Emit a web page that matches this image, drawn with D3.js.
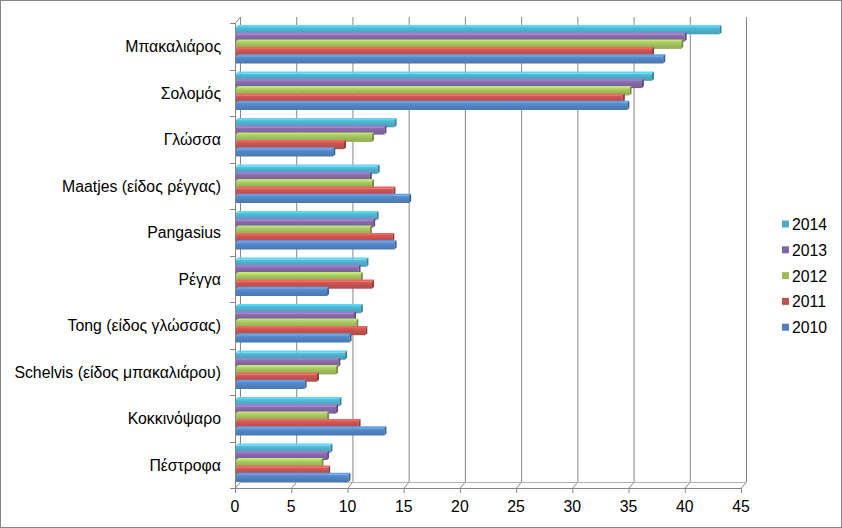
<!DOCTYPE html>
<html><head><meta charset="utf-8">
<script src="https://cdn.jsdelivr.net/npm/d3@7/dist/d3.min.js"></script>
<style>body{margin:0;background:#fff}svg{display:block}text{font-family:"Liberation Sans",Arial,sans-serif}</style>
</head><body><svg id="c" width="842" height="528"></svg>
<script>
const categories = ["Μπακαλιάρος","Σολομός","Γλώσσα","Maatjes (είδος ρέγγας)","Pangasius","Ρέγγα","Tong (είδος γλώσσας)","Schelvis (είδος μπακαλιάρου)","Κοκκινόψαρο","Πέστροφα"];
const seriesNames = ["2014","2013","2012","2011","2010"];
const v2014 = [43.0,37.0,14.1,12.6,12.5,11.6,11.1,9.7,9.2,8.4];
const v2013 = [39.9,36.1,13.2,11.9,12.2,10.9,10.5,9.1,8.9,8.1];
const v2012 = [39.6,35.0,12.1,12.1,11.9,11.1,10.7,8.9,8.1,7.6];
const v2011 = [37.0,34.4,9.6,14.0,13.9,12.1,11.5,7.2,10.9,8.2];
const v2010 = [38.0,34.8,8.65,15.4,14.1,8.1,10.1,6.1,13.2,10.0];
const xTicks = [0,5,10,15,20,25,30,35,40,45];
const seriesValues = [v2014,v2013,v2012,v2011,v2010];
const colors = ["#4BACC6","#8064A2","#9BBB59","#C0504D","#4F81BD"];

const svg = d3.select("#c");
svg.append("rect").attr("x",0.5).attr("y",0.5).attr("width",841).attr("height",527).attr("fill","#fff").attr("stroke","#868686");

const x = d3.scaleLinear().domain([0,45]).range([235,741]);
const y = d3.scaleBand().domain(categories).range([23,488]);
const dx = 5, dy = 6;
const plotTop = 23, plotBot = 488;
const grid = "#868686";
const fs = 15.8;

const g = svg.append("g");
xTicks.forEach(t=>{
  g.append("line").attr("x1",x(t)+dx+0.5).attr("x2",x(t)+dx+0.5).attr("y1",plotTop-dy).attr("y2",plotBot-dy).attr("stroke",grid);
  g.append("line").attr("x1",x(t)+0.5).attr("y1",plotBot).attr("x2",x(t)+dx+0.5).attr("y2",plotBot-dy).attr("stroke",grid);
});
g.append("line").attr("x1",x(0)+dx).attr("x2",x(45)+dx).attr("y1",plotBot-dy+0.5).attr("y2",plotBot-dy+0.5).attr("stroke","#b0b0b0");
g.append("line").attr("x1",x(0)+0.5).attr("y1",plotTop).attr("x2",x(0)+dx+0.5).attr("y2",plotTop-dy).attr("stroke",grid);
g.append("line").attr("x1",x(0)+0.5).attr("x2",x(0)+0.5).attr("y1",plotTop).attr("y2",plotBot).attr("stroke",grid);
g.append("line").attr("x1",x(0)).attr("x2",x(45)).attr("y1",plotBot+0.5).attr("y2",plotBot+0.5).attr("stroke",grid);
xTicks.forEach(t=>{
  g.append("line").attr("x1",x(t)+0.5).attr("x2",x(t)+0.5).attr("y1",plotBot).attr("y2",plotBot+5).attr("stroke",grid);
  g.append("text").attr("x",x(t)).attr("y",plotBot+24).attr("text-anchor","middle").attr("font-size",fs).attr("fill","#000").text(t);
});
const bounds = categories.map(c=>y(c)).concat([plotBot]);
bounds.forEach(b=>{
  g.append("line").attr("x1",x(0)-5).attr("x2",x(0)).attr("y1",Math.round(b)+0.5).attr("y2",Math.round(b)+0.5).attr("stroke",grid);
});
categories.forEach(c=>{
  g.append("text").attr("x",221).attr("y",y(c)+y.bandwidth()/2+6).attr("text-anchor","end").attr("font-size",fs).attr("fill","#000").text(c);
});

const defs = svg.append("defs");
colors.forEach((col,i)=>{
  const gr = defs.append("linearGradient").attr("id","g"+i).attr("x1",0).attr("y1",0).attr("x2",0).attr("y2",1);
  gr.append("stop").attr("offset","0%").attr("stop-color",d3.color(col).brighter(0.35));
  gr.append("stop").attr("offset","50%").attr("stop-color",col);
  gr.append("stop").attr("offset","100%").attr("stop-color",d3.color(col).darker(0.2));
});

const barH = 7.3, d = 2;
const bars = svg.append("g");
categories.forEach((c,ci)=>{
  seriesValues.forEach((vals,si)=>{
    const v = vals[ci];
    const y0 = y(c)+4 + si*barH;
    const x0 = x(0)+1, x1 = x(v)+1;
    const col = colors[si];
    bars.append("rect").attr("x",x0).attr("y",y0).attr("width",x1-x0).attr("height",barH).attr("fill","url(#g"+si+")");
    bars.append("polygon").attr("points",`${x0},${y0} ${x0+d},${y0-d} ${x1+d},${y0-d} ${x1},${y0}`).attr("fill",d3.color(col).brighter(0.6));
    bars.append("polygon").attr("points",`${x1},${y0} ${x1+d},${y0-d} ${x1+d},${y0+barH-d} ${x1},${y0+barH}`).attr("fill",d3.color(col).darker(0.8));
  });
});

const lg = svg.append("g");
seriesNames.forEach((s,i)=>{
  const cy = 224.5 + i*25.8;
  lg.append("rect").attr("x",782).attr("y",cy-4).attr("width",7).attr("height",7).attr("fill",colors[i]);
  lg.append("text").attr("x",792).attr("y",cy+5.5).attr("font-size",fs).attr("fill","#000").text(s);
});
</script></body></html>
